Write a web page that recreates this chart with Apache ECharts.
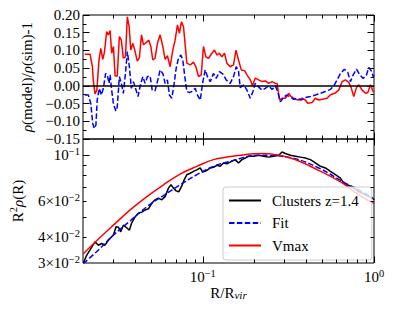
<!DOCTYPE html>
<html><head><meta charset="utf-8">
<script src="https://cdn.jsdelivr.net/npm/echarts@6/dist/echarts.min.js"></script>
<style>html,body{margin:0;padding:0;background:#fff}#c{width:415px;height:311px}</style>
</head><body><div id="c"></div>
<script>
const FONT = 'Liberation Serif';

// ---- top panel: residuals rho(model)/rho(sim)-1 ----
const vmaxResX = [0.0205,0.0220,0.0227,0.0230,0.0235,0.0241,0.0248,0.0254,0.0261,0.0267,
0.0275,0.0281,0.0288,0.0294,0.0301,0.0308,0.0317,0.0326,0.0335,0.0344,
0.0354,0.0363,0.0372,0.0380,0.0391,0.0401,0.0415,0.0427,0.0439,0.0451,
0.0467,0.0484,0.0498,0.0511,0.0527,0.0544,0.0564,0.0585,0.0603,0.0622,
0.0645,0.0669,0.0690,0.0712,0.0731,0.0751,0.0772,0.0782,0.0808,0.0845,
0.0883,0.0912,0.0945,0.0980,0.1010,0.1043,0.1081,0.1132,0.1172,0.1210,
0.1248,0.1294,0.1340,0.1384,0.1447,0.1513,0.1563,0.1618,0.1679,0.1755,
0.1813,0.1895,0.1955,0.2027,0.2119,0.2219,0.2320,0.2426,0.2540,0.2655,
0.2716,0.2813,0.2906,0.3037,0.3174,0.3279,0.3475,0.3634,0.3804,0.3973,
0.4099,0.4349,0.4547,0.4754,0.4977,0.5323,0.5566,0.5953,0.6223,0.6515,
0.6812,0.7122,0.7355,0.7617,0.7900,0.8148,0.8531,0.8920,0.9202,0.9543,
0.9899,1.0];
const vmaxResY = [0.089,0.089,0.054,0.012,-0.023,-0.012,0.073,0.106,0.075,0.096,
0.153,0.144,0.156,0.092,0.111,0.028,0.028,0.139,0.129,0.078,
0.082,0.195,0.167,0.101,0.12,0.101,0.07,0.08,0.144,0.116,
0.122,0.129,0.111,0.073,0.078,0.12,0.144,0.111,0.075,0.085,
0.054,0.101,0.129,0.172,0.148,0.181,0.167,0.139,0.064,0.059,
0.067,0.054,0.026,0.031,0.111,0.082,0.078,0.092,0.101,0.087,
0.092,0.082,0.092,0.064,0.054,0.059,0.101,0.073,0.045,0.043,
0.031,0.017,0.0,0.022,0.017,0.012,0.014,0.007,0.012,0.007,
0.007,-0.04,-0.035,-0.035,-0.021,-0.03,-0.038,-0.04,-0.035,-0.04,
-0.049,-0.047,-0.035,-0.04,-0.038,-0.035,-0.025,-0.02,-0.012,0.012,
0.017,0.01,-0.005,-0.03,-0.005,0.003,-0.012,-0.021,-0.019,0.003,
-0.017,-0.015];

const fitResX = [0.0205,0.0215,0.0222,0.0228,0.0233,0.0238,0.0242,0.0249,0.0256,0.0263,
0.0271,0.0277,0.0284,0.0288,0.0294,0.0301,0.0311,0.0317,0.0326,0.0335,
0.0344,0.0354,0.0363,0.0373,0.0383,0.0394,0.0405,0.0419,0.0435,0.0447,
0.0461,0.0475,0.0493,0.0507,0.0527,0.0544,0.0564,0.0585,0.0603,0.0622,
0.0639,0.0660,0.0681,0.0700,0.0722,0.0745,0.0765,0.0786,0.0808,0.0837,
0.0864,0.0904,0.0932,0.0967,0.1002,0.1034,0.1066,0.1106,0.1156,0.1199,
0.1253,0.1312,0.1371,0.1447,0.1513,0.1569,0.1618,0.1656,0.1732,0.1813,
0.1895,0.1965,0.2027,0.2119,0.2219,0.2320,0.2426,0.2540,0.2655,0.2739,
0.2840,0.2945,0.3078,0.3217,0.3396,0.3556,0.3753,0.3973,0.4251,0.4547,
0.4864,0.5203,0.5566,0.5873,0.6090,0.6367,0.6721,0.7026,0.7286,0.7556,
0.7900,0.8259,0.8648,0.9042,0.9327,0.9633,0.9899,1.0];
const fitResY = [-0.026,-0.026,-0.05,-0.106,-0.12,-0.11,-0.04,-0.007,-0.026,-0.007,
0.035,0.031,0.007,0.031,-0.012,-0.05,-0.071,-0.06,0.026,0.007,
-0.021,0.035,0.097,0.054,-0.007,0.012,-0.007,-0.03,0.007,0.026,
0.007,0.026,0.028,-0.012,-0.014,0.012,0.045,0.035,0.007,0.017,
-0.026,-0.035,0.007,0.05,0.078,0.087,0.073,0.026,-0.016,-0.019,
-0.016,-0.007,-0.026,-0.04,0.012,0.045,0.026,0.012,0.035,0.021,
0.040,0.033,0.017,0.007,0.026,0.054,0.042,-0.005,0.003,-0.012,
-0.035,-0.016,0.007,-0.003,-0.012,-0.007,0.0,-0.01,0.0,-0.016,
-0.045,-0.035,-0.026,-0.03,-0.038,-0.035,-0.04,-0.033,-0.03,-0.026,
-0.021,-0.016,-0.01,0.003,0.017,0.035,0.047,0.038,0.012,0.031,
0.047,0.031,0.021,0.031,0.052,0.043,0.026,0.03];

// ---- bottom panel: R^2 rho(R) ----
const clusterX = [0.0201,0.0210,0.0225,0.0235,0.0246,0.0257,0.0269,0.0281,0.0301,0.0312,
0.0322,0.0332,0.0344,0.0360,0.0373,0.0385,0.0403,0.0421,0.0441,0.0461,
0.0482,0.0504,0.0527,0.0551,0.0577,0.0603,0.0631,0.0652,0.0675,0.0700,
0.0725,0.0755,0.0779,0.0808,0.0845,0.0883,0.0925,0.0967,0.1002,0.1048,
0.1106,0.1156,0.1210,0.1265,0.1323,0.1384,0.1447,0.1547,0.1618,0.1694,
0.1771,0.1852,0.1981,0.2119,0.2268,0.2426,0.2595,0.2776,0.2906,0.3037,
0.3249,0.3475,0.3718,0.3973,0.4251,0.4547,0.4864,0.5203,0.5566,0.5953,
0.6367,0.6657,0.6968,0.7453,0.8148,0.8920,0.9760,1.0];
const clusterY = [0.030,0.0327,0.0358,0.038,0.0366,0.0373,0.0366,0.0387,0.041,0.045,
0.0448,0.0425,0.0458,0.0445,0.0433,0.047,0.0503,0.0523,0.053,0.0543,
0.055,0.0585,0.0608,0.062,0.0608,0.063,0.0693,0.072,0.0693,0.0672,
0.0665,0.071,0.076,0.0805,0.0818,0.0835,0.085,0.0868,0.0829,0.084,
0.0868,0.0875,0.0894,0.0885,0.0918,0.091,0.0926,0.0953,0.0918,0.0953,
0.097,0.099,0.099,0.1,0.099,0.098,0.099,0.1,0.1038,0.102,
0.1,0.099,0.098,0.097,0.0953,0.0918,0.0884,0.0868,0.0835,0.0805,
0.0775,0.0733,0.072,0.0703,0.0667,0.0643,0.062,0.0608];

const fitX = [0.0201,0.0246,0.0301,0.0377,0.0472,0.0590,0.0738,0.0925,0.1156,0.1447,0.2119,0.3322,0.4754,0.6812,0.8148,1.0];
const fitY = [0.0298,0.0347,0.041,0.048,0.0563,0.0638,0.0719,0.0805,0.0884,0.0935,0.1,0.097,0.0868,0.0733,0.068,0.0615];

const vmaxX = [0.0201,0.0246,0.0301,0.0377,0.0472,0.0590,0.0738,0.0925,0.1156,0.1656,0.2219,0.3249,0.4754,0.6515,0.8148,1.0];
const vmaxY = [0.0333,0.0392,0.0458,0.0543,0.063,0.0719,0.0811,0.0884,0.0953,0.100,0.102,0.097,0.0845,0.0735,0.0643,0.0585];

// ---- axes ----
const xRange = [0.02, 1];
const resRange = [-0.15, 0.20];
const resInterval = 0.05;
const profRange = [0.03, 0.12];
const xTickMajor = [0.1, 1];
const xTickMinor = [0.03,0.04,0.05,0.06,0.07,0.08,0.09,0.2,0.3,0.4,0.5,0.6,0.7,0.8,0.9];
const yLogTickMajor = [0.1];
const yLogTickMinor = [0.04,0.05,0.06,0.07,0.08,0.09];
const xLabelValues = [0.1, 1];
const yLogLabelValues = [0.03, 0.04, 0.06, 0.1];
const legendNames = ['Clusters z=1.4', 'Fit', 'Vmax'];

const zip = (a, b) => a.map((v, i) => [v, b[i]]);
const MAJOR = 6.5, MINOR = 3.5;
const minus = s => String(s).replace('-', '\u2212');

const supRich = {
  b: {fontFamily: FONT, fontSize: 15, color: '#000', lineHeight: 19, verticalAlign: 'middle'},
  s: {fontFamily: FONT, fontSize: 10.5, color: '#000', lineHeight: 6, verticalAlign: 'top'}
};

function tickLine(x1, y1, x2, y2) {
  return {type: 'line', shape: {x1, y1, x2, y2}, style: {stroke: '#000', lineWidth: 1}};
}
function xTickRender(params, api) {
  const cs = params.coordSys;
  const px = Math.round(api.coord([api.value(0), api.value(1)])[0]) + 0.5;
  const len = api.value(2) ? MAJOR : MINOR;
  const top = cs.y, bot = cs.y + cs.height;
  return {type: 'group', children: [tickLine(px, bot, px, bot - len), tickLine(px, top, px, top + len)]};
}
function yTickRender(params, api) {
  const cs = params.coordSys;
  const py = Math.round(api.coord([api.value(0), api.value(1)])[1]) + 0.5;
  const len = api.value(2) ? MAJOR : MINOR;
  const l = cs.x, r = cs.x + cs.width;
  return {type: 'group', children: [tickLine(l, py, l + len, py), tickLine(r, py, r - len, py)]};
}

const chart = echarts.init(document.getElementById('c'), null, {renderer: 'svg'});
const lineBase = {type: 'line', showSymbol: false, symbol: 'none', smooth: false, animation: false};

chart.setOption({
  animation: false,
  backgroundColor: '#fff',
  textStyle: {fontFamily: FONT},
  grid: [
    {left: 83, top: 15, width: 291, height: 124, show: true, borderColor: '#000', borderWidth: 1, backgroundColor: 'transparent'},
    {left: 83, top: 139, width: 291, height: 124, show: true, borderColor: '#000', borderWidth: 1, backgroundColor: 'transparent'}
  ],
  xAxis: [
    {gridIndex: 0, type: 'log', logBase: 10, min: xRange[0], max: xRange[1],
      axisLine: {show: false}, axisTick: {show: false}, axisLabel: {show: false}, splitLine: {show: false}},
    {gridIndex: 1, type: 'log', logBase: 10, min: xRange[0], max: xRange[1],
      axisLine: {show: false}, axisTick: {show: false}, splitLine: {show: false},
      axisLabel: {customValues: xLabelValues, margin: 4.5, rich: supRich,
        formatter: v => '{b|10}{s|' + minus(Math.round(Math.log10(v))) + '}'},
      name: '{a|R/R}{i|vir}', nameLocation: 'middle', nameGap: 19,
      nameTextStyle: {rich: {
        a: {fontFamily: FONT, fontSize: 15, color: '#000', lineHeight: 18, verticalAlign: 'bottom'},
        i: {fontFamily: FONT, fontSize: 11, fontStyle: 'italic', color: '#000', lineHeight: 12, verticalAlign: 'bottom'}
      }}}
  ],
  yAxis: [
    {gridIndex: 0, type: 'value', min: resRange[0], max: resRange[1], interval: resInterval, position: 'left',
      axisLine: {show: false}, splitLine: {show: false},
      axisTick: {inside: true, length: MAJOR, lineStyle: {color: '#000', width: 1}},
      minorTick: {show: true, splitNumber: 2, length: MINOR, lineStyle: {color: '#000', width: 1}},
      axisLabel: {margin: 3, color: '#000', fontFamily: FONT, fontSize: 15, lineHeight: 13, formatter: v => minus(v.toFixed(2))},
      name: '{i|\u03c1}{n|(model)/}{i|\u03c1}{n|(sim)-1}', nameLocation: 'middle', nameGap: 40,
      nameTextStyle: {rich: {
        i: {fontFamily: FONT, fontSize: 15, fontStyle: 'italic', color: '#000', lineHeight: 18},
        n: {fontFamily: FONT, fontSize: 15, color: '#000', lineHeight: 18}
      }}},
    {gridIndex: 0, type: 'value', min: resRange[0], max: resRange[1], interval: resInterval, position: 'right',
      axisLine: {show: false}, splitLine: {show: false}, axisLabel: {show: false},
      axisTick: {inside: true, length: MAJOR, lineStyle: {color: '#000', width: 1}},
      minorTick: {show: true, splitNumber: 2, length: MINOR, lineStyle: {color: '#000', width: 1}}},
    {gridIndex: 1, type: 'log', logBase: 10, min: profRange[0], max: profRange[1],
      axisLine: {show: false}, axisTick: {show: false}, splitLine: {show: false},
      axisLabel: {customValues: yLogLabelValues, margin: 3, rich: supRich,
        formatter: v => {
          const e = Math.floor(Math.log10(v) + 1e-9);
          const m = Math.round(v / Math.pow(10, e));
          return '{b|' + (m === 1 ? '' : m + '\u00d7') + '10}{s|' + minus(e) + '}';
        }},
      name: '{n|R}{s|2}{i|\u03c1}{n|(R)}', nameLocation: 'middle', nameGap: 55,
      nameTextStyle: {rich: {
        n: {fontFamily: FONT, fontSize: 15, color: '#000', lineHeight: 20, verticalAlign: 'middle'},
        i: {fontFamily: FONT, fontSize: 15, fontStyle: 'italic', color: '#000', lineHeight: 20, verticalAlign: 'middle'},
        s: {fontFamily: FONT, fontSize: 10.5, color: '#000', lineHeight: 10, verticalAlign: 'top'}
      }}}
  ],
  legend: {
    orient: 'vertical', left: 223, top: 187, padding: [6, 13, 7, 5],
    itemWidth: 32, itemHeight: 14, itemGap: 7.5,
    itemStyle: {opacity: 0},
    backgroundColor: 'rgba(255,255,255,0.8)', borderColor: '#cccccc', borderWidth: 1, borderRadius: 3,
    textStyle: {fontFamily: FONT, fontSize: 15, color: '#000', padding: [0, 0, 0, 6]},
    data: legendNames, selectedMode: false
  },
  series: [
    Object.assign({}, lineBase, {name: 'Vmax', xAxisIndex: 0, yAxisIndex: 0, data: zip(vmaxResX, vmaxResY),
      lineStyle: {color: '#ff0000', width: 1.5}, itemStyle: {color: '#ff0000'}}),
    Object.assign({}, lineBase, {name: 'Fit', xAxisIndex: 0, yAxisIndex: 0, data: zip(fitResX, fitResY),
      lineStyle: {color: '#0000ff', width: 1.5, type: [5.5, 2.4]}, itemStyle: {color: '#0000ff'},
      markLine: {silent: true, symbol: ['none', 'none'], label: {show: false}, animation: false,
        lineStyle: {color: '#000', width: 1.5, type: 'solid'}, data: [{yAxis: 0}]}}),
    {type: 'custom', xAxisIndex: 0, yAxisIndex: 0, renderItem: xTickRender, silent: true, z: 5,
      data: xTickMinor.map(v => [v, 0, 0]).concat(xTickMajor.map(v => [v, 0, 1]))},
    Object.assign({}, lineBase, {name: 'Clusters z=1.4', xAxisIndex: 1, yAxisIndex: 2, data: zip(clusterX, clusterY),
      lineStyle: {color: '#000000', width: 1.5}, itemStyle: {color: '#000000'}}),
    Object.assign({}, lineBase, {name: 'Fit', xAxisIndex: 1, yAxisIndex: 2, data: zip(fitX, fitY), smooth: 0.4,
      lineStyle: {color: '#0000ff', width: 1.5, type: [5.5, 2.4]}, itemStyle: {color: '#0000ff'}}),
    Object.assign({}, lineBase, {name: 'Vmax', xAxisIndex: 1, yAxisIndex: 2, data: zip(vmaxX, vmaxY), smooth: 0.4,
      lineStyle: {color: '#ff0000', width: 1.5}, itemStyle: {color: '#ff0000'}}),
    {type: 'custom', xAxisIndex: 1, yAxisIndex: 2, renderItem: xTickRender, silent: true, z: 5,
      data: xTickMinor.map(v => [v, 0.05, 0]).concat(xTickMajor.map(v => [v, 0.05, 1]))},
    {type: 'custom', xAxisIndex: 1, yAxisIndex: 2, renderItem: yTickRender, silent: true, z: 5,
      data: yLogTickMinor.map(v => [0.1, v, 0]).concat(yLogTickMajor.map(v => [0.1, v, 1]))}
  ]
});
</script></body></html>
